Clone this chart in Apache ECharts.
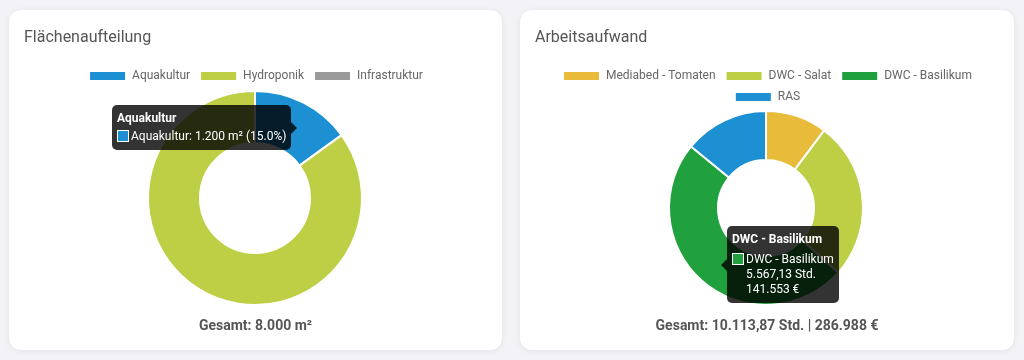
<!DOCTYPE html>
<html>
<head>
<meta charset="utf-8">
<script src="https://cdn.jsdelivr.net/npm/echarts@6/dist/echarts.min.js"></script>
<style>
  html, body { margin: 0; padding: 0; background: #f2f2f7; width: 1024px; height: 360px; overflow: hidden; font-family: Roboto, "Noto Sans", sans-serif; }
  .card { position: absolute; top: 10px; height: 340px; background: #fff; border-radius: 12px; box-shadow: 0 1px 6px rgba(0,0,0,0.07); }
  .chart { position: absolute; left: 0; top: 0; width: 100%; height: 100%; }
</style>
</head>
<body>
<div class="card" style="left:9px;width:493px;"><div id="c1" class="chart"></div></div>
<div class="card" style="left:520px;width:494px;"><div id="c2" class="chart"></div></div>
<script>
// ---- data ----
const areaTitle = 'Flächenaufteilung';
const areaCategories = ['Aquakultur', 'Hydroponik', 'Infrastruktur'];
const areaValues = [1200, 6800, 0];          // m²
const areaColors = ['#1c90d3', '#bfcf45', '#9a9a9a'];

const laborTitle = 'Arbeitsaufwand';
const laborCategories = ['Mediabed - Tomaten', 'DWC - Salat', 'DWC - Basilikum', 'RAS'];
const laborHours = [1180.50, 2030.24, 5567.13, 1336.00];   // Std.
const laborCost = [29416, 75689, 141553, 40330];           // €
const laborColors = ['#e9bb3a', '#bfcf45', '#21a03e', '#1c90d3'];

// ---- helpers ----
function fmtDE(v, dec) {
  const s = v.toFixed(dec);
  let [i, f] = s.split('.');
  i = i.replace(/\B(?=(\d{3})+(?!\d))/g, '.');
  return f ? i + ',' + f : i;
}
const FONT = 'Roboto, "Noto Sans", sans-serif';
function box(color) {
  return '<span style="display:inline-block;width:10px;height:10px;border:1px solid #fff;background:' + color +
         ';vertical-align:-2px;margin-right:2px;"></span>';
}
function caret(side) {
  if (side === 'right') {
    return '<span style="position:absolute;right:-6px;top:50%;margin-top:-6px;width:0;height:0;border-left:6px solid rgba(0,0,0,0.8);border-top:6px solid transparent;border-bottom:6px solid transparent;"></span>';
  }
  return '<span style="position:absolute;left:-6px;top:50%;margin-top:-6px;width:0;height:0;border-right:6px solid rgba(0,0,0,0.8);border-top:6px solid transparent;border-bottom:6px solid transparent;"></span>';
}
const tooltipBase = {
  trigger: 'item',
  alwaysShowContent: true,
  triggerOn: 'none',
  backgroundColor: 'rgba(0,0,0,0.8)',
  borderWidth: 0,
  padding: [6, 5],
  transitionDuration: 0,
  textStyle: { color: '#fff', fontSize: 12, fontFamily: FONT },
  extraCssText: 'box-shadow:none;border-radius:5px;line-height:15px;'
};
const legendBase = {
  icon: 'rect',
  itemWidth: 37,
  itemHeight: 10,
  itemGap: 9,
  selectedMode: false,
  textStyle: { color: '#666', fontSize: 12, fontFamily: FONT, padding: [0, 0, 0, 1] }
};
const titleStyle = { color: '#555', fontSize: 16, fontWeight: 'normal', fontFamily: FONT };
const totalStyle = { color: '#555', fontSize: 14, fontWeight: 'bold', fontFamily: FONT };

// ---- chart 1 ----
const areaTotal = areaValues.reduce((a, b) => a + b, 0);
const c1 = echarts.init(document.getElementById('c1'));
c1.setOption({
  animation: false,
  title: [
    { text: areaTitle, left: 10, top: 15, textStyle: titleStyle },
    { text: 'Gesamt: ' + fmtDE(areaTotal, 0) + ' m²', left: 'center', top: 304, textStyle: totalStyle }
  ],
  legend: Object.assign({}, legendBase, { data: areaCategories, top: 55, left: 'center' }),
  tooltip: Object.assign({}, tooltipBase, {
    position: [103, 95],
    formatter: function (p) {
      const pct = (p.value / areaTotal * 100).toFixed(1);
      return caret('right') + '<div style="font-weight:bold;margin-bottom:3px;">' + p.name + '</div>' +
        '<div>' + box(p.color) + p.name + ': ' + fmtDE(p.value, 0) + ' m² (' + pct + '%)</div>';
    }
  }),
  series: [{
    type: 'pie',
    center: [246, 188],
    radius: [55, 107],
    startAngle: 90,
    label: { show: false },
    labelLine: { show: false },
    emphasis: { scale: false },
    itemStyle: { borderColor: '#fff', borderWidth: 2 },
    data: areaCategories.map((n, i) => ({ name: n, value: areaValues[i], itemStyle: { color: areaColors[i] } }))
  }]
});
c1.dispatchAction({ type: 'showTip', seriesIndex: 0, dataIndex: 0 });

// ---- chart 2 ----
const hoursTotal = laborHours.reduce((a, b) => a + b, 0);
const costTotal = laborCost.reduce((a, b) => a + b, 0);
const c2 = echarts.init(document.getElementById('c2'));
c2.setOption({
  animation: false,
  title: [
    { text: laborTitle, left: 10, top: 15, textStyle: titleStyle },
    { text: 'Gesamt: ' + fmtDE(hoursTotal, 2) + ' Std. | ' + fmtDE(costTotal, 0) + ' €', left: 'center', top: 304, textStyle: totalStyle }
  ],
  legend: [
    Object.assign({}, legendBase, { data: laborCategories.slice(0, 3), top: 55, left: 'center' }),
    Object.assign({}, legendBase, { data: laborCategories.slice(3), top: 76, left: 'center' })
  ],
  tooltip: Object.assign({}, tooltipBase, {
    position: [207, 216],
    formatter: function (p) {
      const i = p.dataIndex;
      return caret('left') + '<div style="font-weight:bold;margin-bottom:5px;">' + p.name + '</div>' +
        '<div>' + box(p.color) + p.name + '</div>' +
        '<div style="padding-left:14px;">' + fmtDE(laborHours[i], 2) + ' Std.</div>' +
        '<div style="padding-left:14px;">' + fmtDE(laborCost[i], 0) + ' €</div>';
    }
  }),
  series: [{
    type: 'pie',
    center: [246, 198],
    radius: [48, 97],
    startAngle: 90,
    label: { show: false },
    labelLine: { show: false },
    emphasis: { scale: false },
    itemStyle: { borderColor: '#fff', borderWidth: 2 },
    data: laborCategories.map((n, i) => ({ name: n, value: laborCost[i], itemStyle: { color: laborColors[i] } }))
  }]
});
c2.dispatchAction({ type: 'showTip', seriesIndex: 0, dataIndex: 2 });
</script>
</body>
</html>
